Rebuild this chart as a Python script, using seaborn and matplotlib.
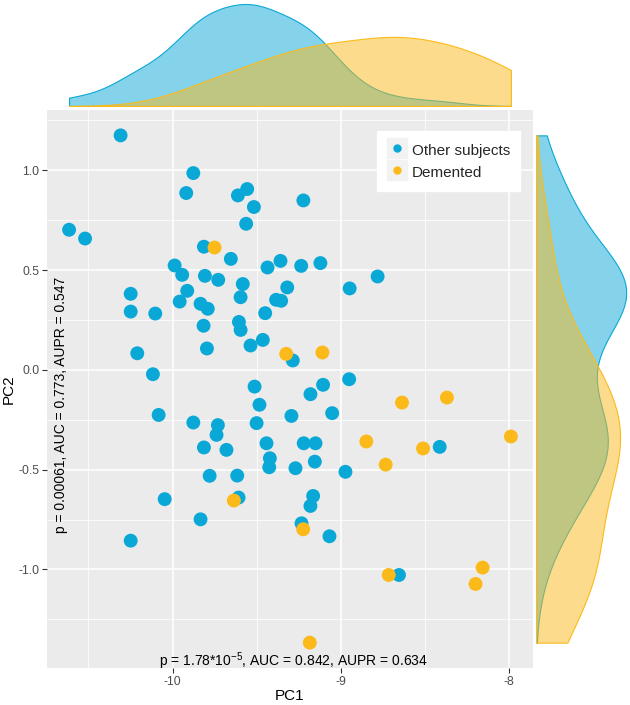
import numpy as np
import pandas as pd
import matplotlib
matplotlib.use("Agg")
import matplotlib.pyplot as plt
from matplotlib.lines import Line2D
from matplotlib.legend_handler import HandlerTuple
from matplotlib.ticker import MultipleLocator, FormatStrFormatter
import seaborn as sns

# =======================
# Datos
# =======================
pc1_otros = [-10.309, -9.877, -9.919, -10.615, -10.52, -9.612, -9.557, -9.517, -9.563, -9.223,
             -9.814, -9.654, -9.988, -9.943, -9.808, -9.729, -9.913, -9.958, -9.834, -9.791,
             -10.249, -10.249, -10.103, -9.816, -9.583, -9.596, -9.606, -9.596, -9.796, -9.537,
             -9.464, -9.45, -9.436, -9.359, -9.319, -9.385, -9.355, -9.236, -9.122, -8.948,
             -8.782, -10.21, -10.117, -9.286, -9.513, -9.181, -8.951, -9.106, -9.484, -10.083,
             -9.294, -9.877, -9.731, -9.501, -9.739, -9.814, -9.68, -9.442, -9.221, -9.151,
             -9.422, -9.426, -9.27, -9.155, -9.78, -9.616, -10.047, -9.608, -9.165, -9.181,
             -9.834, -10.249, -9.234, -9.052, -8.413, -8.973, -9.068, -8.655]
pc2_otros = [1.175, 0.986, 0.886, 0.702, 0.658, 0.874, 0.906, 0.816, 0.732, 0.849,
             0.617, 0.556, 0.523, 0.476, 0.471, 0.451, 0.396, 0.342, 0.331, 0.306,
             0.381, 0.292, 0.282, 0.221, 0.43, 0.364, 0.24, 0.2, 0.107, 0.122,
             0.15, 0.284, 0.513, 0.546, 0.413, 0.351, 0.346, 0.521, 0.535, 0.408,
             0.468, 0.083, -0.022, 0.047, -0.084, -0.122, -0.047, -0.075, -0.175, -0.226,
             -0.231, -0.264, -0.277, -0.267, -0.326, -0.389, -0.401, -0.368, -0.368, -0.368,
             -0.443, -0.488, -0.493, -0.46, -0.531, -0.53, -0.648, -0.64, -0.632, -0.682,
             -0.749, -0.856, -0.769, -0.217, -0.386, -0.511, -0.834, -1.028]

pc1_dem = [-9.751, -9.325, -9.11, -8.637, -8.37, -7.99, -8.849, -8.512, -8.734, -9.636,
           -9.224, -8.716, -8.158, -8.2, -9.185]
pc2_dem = [0.613, 0.08, 0.087, -0.164, -0.139, -0.334, -0.359, -0.394, -0.475, -0.655,
           -0.799, -1.028, -0.991, -1.073, -1.367]

grupos = ["Other subjects", "Demented"]
colores = {"Other subjects": "#0AA8D6", "Demented": "#FBBA1A"}

texto_pc1 = "p = 1.78*10$^{-5}$, AUC = 0.842, AUPR = 0.634"
texto_pc2 = "p = 0.00061, AUC = 0.773, AUPR = 0.547"

df = pd.DataFrame({
    "PC1": pc1_otros + pc1_dem,
    "PC2": pc2_otros + pc2_dem,
    "grupo": [grupos[0]] * len(pc1_otros) + [grupos[1]] * len(pc1_dem),
})

# =======================
# Estilo tipo ggplot
# =======================
sns.set_theme(style="darkgrid", rc={"axes.facecolor": "#EBEBEB", "grid.color": "white"})
plt.rcParams["font.family"] = ["Liberation Sans", "DejaVu Sans"]
plt.rcParams["mathtext.fontset"] = "custom"
plt.rcParams["mathtext.rm"] = "Liberation Sans"
plt.rcParams["mathtext.default"] = "regular"
plt.rcParams["axes.unicode_minus"] = False


def bw_nrd0(kde):
    # ancho de banda como bw.nrd0 de R
    d = kde.dataset[0]
    sd = d.std(ddof=1)
    iqr = np.subtract(*np.percentile(d, [75, 25]))
    return 0.9 * min(sd, iqr / 1.34) * kde.n ** -0.2 / sd


# limites con expansion del 5%
x_rng = df["PC1"].max() - df["PC1"].min()
y_rng = df["PC2"].max() - df["PC2"].min()
xlim = (df["PC1"].min() - 0.05 * x_rng, df["PC1"].max() + 0.05 * x_rng)
ylim = (df["PC2"].min() - 0.05 * y_rng, df["PC2"].max() + 0.05 * y_rng)

fig = plt.figure(figsize=(6.3, 7.05), dpi=100)
ax = fig.add_axes([47 / 630, 37 / 705, 486 / 630, 558 / 705])
ax_sup = fig.add_axes([47 / 630, 599 / 705, 486 / 630, 104 / 705])
ax_der = fig.add_axes([536 / 630, 37 / 705, 92 / 630, 558 / 705])

# Dispersion
sns.scatterplot(data=df, x="PC1", y="PC2", hue="grupo", hue_order=grupos, palette=colores,
                s=100, linewidth=0, legend=False, ax=ax, zorder=3)
ax.set_xlim(xlim)
ax.set_ylim(ylim)
ax.xaxis.set_major_locator(MultipleLocator(1))
ax.xaxis.set_minor_locator(MultipleLocator(0.5))
ax.yaxis.set_major_locator(MultipleLocator(0.5))
ax.yaxis.set_minor_locator(MultipleLocator(0.25))
ax.xaxis.set_major_formatter(FormatStrFormatter("%d"))
ax.yaxis.set_major_formatter(FormatStrFormatter("%.1f"))
ax.grid(which="major", color="white", linewidth=1.1)
ax.grid(which="minor", color="white", linewidth=0.55)
ax.tick_params(which="major", bottom=True, left=True, length=3.5, width=0.8, color="#333333",
               labelcolor="#4D4D4D", labelsize=8.8, pad=2)
ax.tick_params(which="minor", length=0)
for s in ax.spines.values():
    s.set_visible(False)
ax.set_xlabel("PC1", fontsize=11, color="black", labelpad=1)
ax.set_ylabel("PC2", fontsize=11, color="black", labelpad=2)

ax.text(-9.282, -1.462, texto_pc1, ha="center", va="center", fontsize=10, color="black", zorder=4)
ax.text(-10.665, -0.175, texto_pc2, ha="center", va="center", rotation=90, fontsize=10,
        color="black", zorder=4)

handles = [(Line2D([], [], marker="s", ls="", color="#F2F2F2", markersize=15),
            Line2D([], [], marker="o", ls="", color=colores[g], markersize=5)) for g in grupos]
ax.legend(handles, grupos, handler_map={tuple: HandlerTuple(ndivide=1)}, loc="upper left",
          bbox_to_anchor=(0.679, 0.962), borderaxespad=0, frameon=True, fancybox=False,
          framealpha=1, facecolor="white", edgecolor="white", fontsize=11, handlelength=1.3,
          handleheight=1.4, handletextpad=0.35, borderpad=0.65, labelspacing=0.3)

# Densidades marginales
kde_kws = dict(data=df, hue="grupo", hue_order=grupos[::-1], palette=colores, fill=True,
               alpha=0.5, common_norm=False, common_grid=True, cut=0, bw_method=bw_nrd0,
               linewidth=0.8, legend=False)
sns.kdeplot(x="PC1", ax=ax_sup, **kde_kws)
sns.kdeplot(y="PC2", ax=ax_der, **kde_kws)

top = max(c.get_paths()[0].vertices[:, 1].max() for c in ax_sup.collections)
ax_sup.set_xlim(xlim)
ax_sup.set_ylim(0, top * 104 / 102)
ax_sup.axis("off")

der = max(c.get_paths()[0].vertices[:, 0].max() for c in ax_der.collections)
ax_der.set_ylim(ylim)
ax_der.set_xlim(0, der * 1.02)
ax_der.axis("off")

fig.savefig("out.png", dpi=100)
